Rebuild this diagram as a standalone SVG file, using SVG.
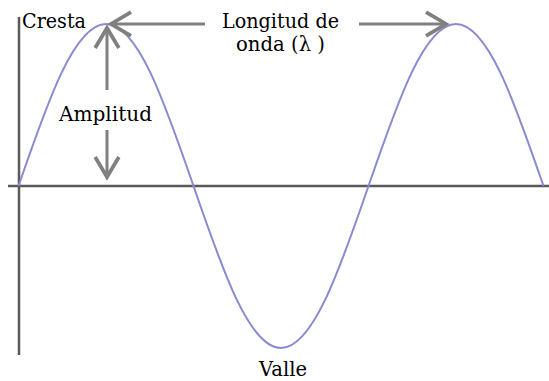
<svg xmlns="http://www.w3.org/2000/svg" width="549" height="381" viewBox="0 0 549 381">
<defs>
<marker id="ah" markerUnits="userSpaceOnUse" markerWidth="30" markerHeight="30" viewBox="-20 -12 24 24" refX="0" refY="0" orient="auto">
<path d="M-16,-9.5 L0,0 L-16,9.5" fill="none" stroke="#808080" stroke-width="3"/>
</marker>
</defs>
<style>
.axis{stroke:#5a5a5a;stroke-width:2.5;fill:none}
.wave{stroke:#8a8ad0;stroke-width:2;fill:none}
.arr{stroke:#808080;stroke-width:3;fill:none;marker-end:url(#ah)}
text{font-family:"DejaVu Serif","Liberation Serif",serif;font-size:21px;fill:#000}
</style>
<g id="axes">
<line class="axis" x1="19" y1="17" x2="19" y2="355"/>
<line class="axis" x1="8" y1="186" x2="549" y2="186"/>
</g>
<g id="wave">
<path class="wave" d="M18.5,186 C47.75,100.93 74.46,24 106,24 C137.54,24 164.25,100.93 193.5,186 C222.75,271.07 249.46,348 281,348 C312.54,348 339.25,271.07 368.5,186 C397.75,100.93 424.46,24 456,24 C487.54,24 514.25,100.93 543.5,186"/>
</g>
<g id="connectors">
<line class="arr" x1="205" y1="24" x2="111" y2="24"/>
<line class="arr" x1="359" y1="24" x2="446" y2="24"/>
<line class="arr" x1="107" y1="90" x2="107" y2="28"/>
<line class="arr" x1="107" y1="130" x2="107" y2="177"/>
</g>
<g id="cresta"><text x="22" y="28" textLength="64" lengthAdjust="spacingAndGlyphs">Cresta</text></g>
<g id="longitud">
<text x="222" y="28" textLength="117" lengthAdjust="spacingAndGlyphs">Longitud de</text>
<text x="236" y="51" textLength="89" lengthAdjust="spacingAndGlyphs">onda (λ )</text>
</g>
<g id="amplitud"><text x="59" y="121" textLength="93" lengthAdjust="spacingAndGlyphs">Amplitud</text></g>
<g id="valle"><text x="259" y="376" textLength="48" lengthAdjust="spacingAndGlyphs">Valle</text></g>
</svg>
